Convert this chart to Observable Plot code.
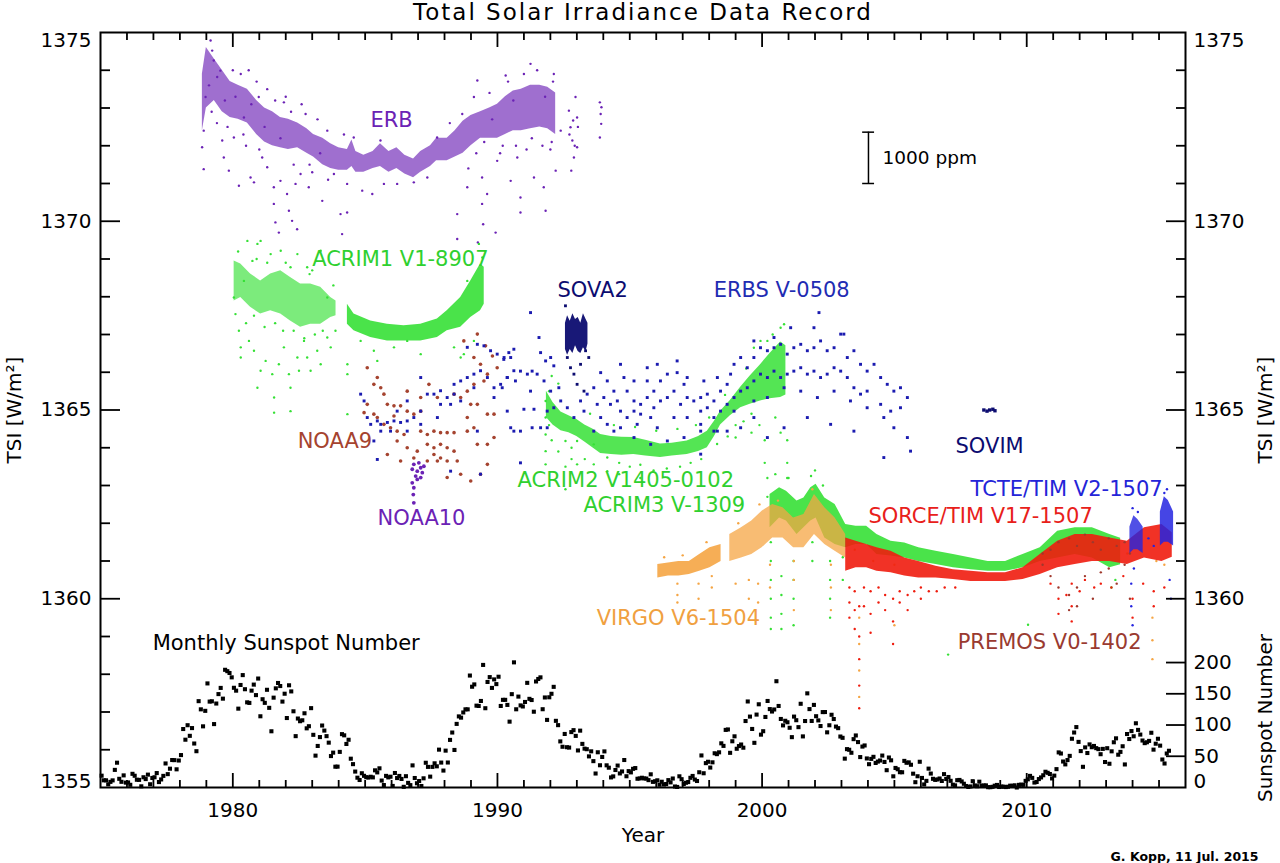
<!DOCTYPE html>
<html><head><meta charset="utf-8">
<script src="https://cdn.jsdelivr.net/npm/d3@7"></script>
<script src="https://cdn.jsdelivr.net/npm/@observablehq/plot@0.6"></script>
<style>body{margin:0;background:#fff}</style>
</head><body><div id="chart"></div>
<script>
// ---------------- DATA ----------------
const xMajor = [1980, 1990, 2000, 2010];
const xMinor = [1976,1977,1978,1979,1981,1982,1983,1984,1985,1986,1987,1988,1989,1991,1992,1993,1994,1995,1996,1997,1998,1999,2001,2002,2003,2004,2005,2006,2007,2008,2009,2011,2012,2013,2014,2015];
const yMajorLeft = [1360, 1365, 1370];
const yMinorLeft = [1356,1357,1358,1359,1361,1362,1363,1364,1366,1367,1368,1369,1371,1372,1373,1374];
const yMinorRight = [1361,1362,1363,1364,1366,1367,1368,1369,1371,1372,1373,1374];
const sunspotTicks = [0, 50, 100, 150, 200];
const sunspotPerTsi = 0.01655; // right-axis: TSI units per sunspot number

// ERB core band
const erbYears = [1978.85,1979.0,1979.3,1979.6,1979.9,1980.2,1980.55,1980.9,1981.2,1981.5,1981.8,1982.1,1982.45,1982.8,1983.05,1983.4,1983.7,1984.0,1984.33,1984.5,1984.65,1984.95,1985.3,1985.58,1985.9,1986.2,1986.5,1986.83,1987.1,1987.47,1987.7,1988.1,1988.4,1988.7,1989.0,1989.36,1989.7,1990.0,1990.3,1990.6,1990.9,1991.25,1991.6,1991.9,1992.2];
const erbLo = [1372.4,1373.0,1373.2,1372.9,1372.75,1372.7,1372.6,1372.3,1372.1,1372.0,1371.95,1371.9,1371.95,1371.8,1371.7,1371.5,1371.4,1371.35,1371.35,1371.45,1371.3,1371.3,1371.4,1371.45,1371.3,1371.4,1371.25,1371.15,1371.3,1371.45,1371.6,1371.6,1371.7,1371.8,1372.0,1372.2,1372.2,1372.2,1372.3,1372.4,1372.4,1372.45,1372.5,1372.45,1372.3];
const erbHi = [1373.9,1374.6,1374.3,1374.0,1373.7,1373.6,1373.5,1373.2,1373.0,1372.9,1372.75,1372.7,1372.6,1372.45,1372.3,1372.2,1372.05,1371.95,1371.9,1372.15,1371.85,1371.75,1371.85,1372.05,1371.85,1371.95,1371.75,1371.65,1371.85,1372.0,1372.2,1372.2,1372.4,1372.65,1372.8,1372.9,1373.0,1373.1,1373.3,1373.45,1373.5,1373.6,1373.6,1373.55,1373.4];
const erbDots = [[1978.84,1371.96],[1978.9,1371.38],[1978.9,1372.4],[1978.97,1373.29],[1979.16,1374.79],[1979.22,1374.52],[1979.28,1374.26],[1979.41,1373.82],[1979.53,1373.99],[1979.6,1372.14],[1979.66,1371.69],[1979.85,1371.34],[1980.04,1372.22],[1980.23,1370.94],[1980.42,1372.75],[1980.67,1371.16],[1980.8,1371.03],[1980.98,1373.29],[1981.11,1371.69],[1981.3,1371.43],[1981.55,1370.9],[1981.55,1370.46],[1981.61,1369.97],[1981.74,1369.7],[1981.8,1371.07],[1981.93,1373.15],[1982.05,1370.72],[1982.12,1370.28],[1982.24,1370.01],[1982.43,1369.79],[1982.37,1370.99],[1982.56,1371.25],[1982.75,1372.84],[1982.87,1370.9],[1983.38,1370.54],[1983.57,1372.4],[1983.82,1371.25],[1984.07,1370.19],[1984.13,1369.66],[1984.32,1370.99],[1984.32,1370.23],[1984.57,1372.22],[1984.89,1370.81],[1985.27,1370.72],[1985.58,1372.14],[1985.71,1370.99],[1986.21,1370.99],[1986.84,1371.03],[1987.35,1371.16],[1987.72,1372.22],[1988.48,1370.19],[1988.48,1369.53],[1988.67,1372.84],[1988.86,1370.9],[1989.11,1373.29],[1989.24,1373.73],[1989.26,1369.44],[1989.42,1371.16],[1989.42,1370.46],[1989.46,1369.92],[1989.61,1370.72],[1989.93,1369.7],[1989.99,1371.6],[1990.31,1373.86],[1990.5,1371.07],[1990.75,1371.69],[1990.87,1370.63],[1990.87,1370.23],[1991.25,1374.17],[1991.38,1371.16],[1991.75,1370.9],[1991.82,1370.28],[1992.13,1373.9],[1992.2,1371.34],[1992.39,1372.4],[1992.7,1372.93],[1992.76,1372.49],[1992.83,1372.14],[1992.89,1371.69],[1992.79,1371.34],[1992.95,1373.29],[1993.01,1372.75],[1993.01,1371.96],[1992.86,1372.67],[1993.87,1373.15],[1993.9,1372.84],[1993.92,1372.58],[1993.87,1372.22],[1993.93,1373.02],[1979.1,1373.6],[1979.4,1372.6],[1979.7,1373.2],[1980.0,1374.0],[1980.3,1373.9],[1980.6,1374.0],[1980.9,1373.7],[1981.3,1373.5],[1981.6,1373.2],[1981.0,1371.9],[1980.5,1372.0],[1982.0,1373.3],[1982.3,1371.5],[1982.6,1373.1],[1983.0,1371.3],[1983.2,1372.7],[1983.6,1371.1],[1984.2,1372.3],[1988.2,1372.6],[1988.9,1371.4],[1989.2,1371.8],[1989.7,1373.4],[1990.1,1371.8],[1990.4,1373.7],[1990.7,1372.0],[1991.0,1373.9],[1991.1,1371.9],[1991.5,1374.0],[1991.7,1372.0],[1992.0,1371.9],[1992.1,1373.7],[1979.2,1372.9],[1979.8,1372.5],[1980.1,1373.3],[1980.4,1372.3],[1980.7,1373.1],[1981.2,1372.5],[1981.8,1372.2],[1982.2,1372.9],[1982.9,1371.5],[1983.3,1371.8],[1989.5,1372.1],[1989.8,1372.7],[1990.2,1372.0],[1990.6,1373.2],[1991.3,1372.2],[1991.8,1373.3],[1992.05,1372.1],[1992.72,1372.3],[1992.92,1372.0],[1993.04,1372.5]];

// ACRIM1 (two segments)
const acrim1aYears = [1980.05,1980.3,1980.67,1981.05,1981.43,1981.81,1982.18,1982.56,1982.94,1983.32,1983.7,1983.9];
const acrim1aLo = [1367.89,1367.98,1367.72,1367.54,1367.63,1367.54,1367.36,1367.19,1367.27,1367.27,1367.45,1367.5];
const acrim1aHi = [1368.95,1368.87,1368.6,1368.42,1368.6,1368.69,1368.51,1368.34,1368.34,1368.25,1367.98,1367.89];
const acrim1bYears = [1984.33,1984.58,1985.21,1985.84,1986.47,1987.1,1987.73,1988.1,1988.61,1988.99,1989.36,1989.5];
const acrim1bLo = [1367.27,1367.1,1366.92,1366.83,1366.83,1366.83,1366.92,1367.1,1367.19,1367.45,1367.63,1367.8];
const acrim1bHi = [1367.8,1367.54,1367.36,1367.27,1367.23,1367.27,1367.41,1367.63,1367.98,1368.42,1368.87,1368.78];
const acrim1Dots = [[1980.23,1367.1],[1980.3,1366.66],[1980.3,1366.39],[1980.61,1366.83],[1980.8,1366.57],[1980.93,1365.59],[1981.05,1366.04],[1981.24,1366.3],[1981.49,1365.95],[1981.56,1365.33],[1981.56,1364.93],[1981.74,1366.21],[1981.93,1366.66],[1982.12,1365.95],[1982.18,1365.59],[1982.18,1364.97],[1982.44,1366.39],[1982.5,1366.04],[1982.69,1366.83],[1982.81,1366.39],[1982.94,1366.04],[1983.19,1366.57],[1983.32,1366.21],[1983.57,1366.92],[1983.7,1366.66],[1983.88,1367.1],[1984.33,1365.95],[1984.33,1366.21],[1984.33,1364.89],[1980.55,1369.48],[1980.93,1369.4],[1981.05,1369.48],[1981.81,1369.22],[1982.44,1369.13],[1983.32,1369.22],[1982.81,1368.78],[1984.83,1366.83],[1985.33,1366.57],[1985.46,1366.3],[1986.09,1366.66],[1986.59,1366.83],[1987.1,1366.48],[1988.36,1366.66],[1988.61,1366.39],[1988.73,1366.48],[1989.11,1366.83],[1989.3,1369.4],[1989.43,1369.04],[1988.86,1368.42],[1980.42,1368.42],[1980.74,1368.95],[1981.43,1369.13],[1980.04,1367.98],[1980.1,1367.54],[1983.57,1367.98],[1982.18,1368.78],[1980.5,1367.3],[1981.2,1367.2],[1981.9,1367.1],[1982.7,1366.9],[1983.1,1367.0],[1980.9,1369.0],[1982.0,1368.9],[1983.0,1368.7],[1980.2,1369.2],[1980.8,1367.5],[1981.3,1368.9],[1981.6,1367.3],[1982.3,1367.1],[1982.9,1368.6],[1983.4,1367.1],[1983.8,1368.3]];

// NOAA9, NOAA10
const noaa9Dots = [[1985.08,1366.12],[1985.46,1365.86],[1985.33,1365.68],[1985.59,1365.59],[1985.71,1365.42],[1985.08,1365.15],[1985.84,1365.15],[1986.09,1365.11],[1986.34,1365.11],[1984.96,1364.93],[1985.33,1364.89],[1985.46,1364.8],[1986.09,1364.84],[1986.59,1364.97],[1986.84,1364.89],[1987.1,1364.97],[1985.71,1364.62],[1985.96,1364.53],[1986.21,1364.44],[1986.47,1364.35],[1987.1,1364.44],[1987.35,1364.35],[1987.6,1364.44],[1987.85,1364.4],[1988.1,1364.4],[1988.36,1364.4],[1986.21,1364.18],[1986.59,1364.0],[1986.97,1363.91],[1987.35,1364.09],[1987.6,1364.0],[1987.85,1364.09],[1988.1,1364.0],[1988.36,1363.91],[1987.6,1363.82],[1987.85,1363.73],[1985.84,1363.82],[1986.34,1363.65],[1986.84,1363.73],[1987.35,1363.65],[1987.73,1363.65],[1988.1,1363.65],[1988.48,1363.65],[1988.61,1363.3],[1988.99,1363.12],[1988.1,1363.21],[1989.24,1364.09],[1989.62,1364.89],[1989.87,1364.89],[1989.11,1364.53],[1988.86,1364.44],[1989.87,1364.27],[1989.62,1364.09],[1988.86,1365.5],[1989.11,1365.68],[1989.49,1365.77],[1989.62,1365.95],[1989.99,1366.12],[1989.36,1366.21],[1989.11,1366.39],[1988.73,1366.83],[1989.24,1367.01],[1989.24,1365.15],[1988.99,1365.15],[1988.61,1365.33],[1988.36,1365.42],[1987.41,1365.68],[1987.73,1365.33],[1987.1,1365.33],[1986.59,1365.5],[1988.86,1364.8],[1989.62,1363.56],[1989.36,1363.3],[1989.81,1366.43],[1989.55,1366.7]];
const noaa10Dots = [[1986.84,1363.56],[1987.03,1363.6],[1987.22,1363.51],[1986.78,1363.43],[1986.97,1363.38],[1987.16,1363.34],[1986.91,1363.25],[1987.1,1363.21],[1986.78,1363.07],[1986.84,1362.94],[1986.82,1362.76],[1986.84,1362.54],[1987.1,1363.47],[1986.97,1363.16]];

// ERBS
const erbsDots = [[1984.83,1365.42],[1984.96,1365.24],[1985.08,1364.8],[1985.21,1364.62],[1985.46,1364.71],[1985.59,1364.62],[1985.84,1364.67],[1986.09,1364.71],[1986.34,1364.67],[1986.59,1364.71],[1986.84,1364.8],[1987.1,1364.97],[1987.35,1365.42],[1987.6,1365.42],[1987.85,1365.51],[1988.1,1365.33],[1988.36,1365.42],[1988.61,1365.24],[1985.33,1364.18],[1985.46,1363.69],[1985.59,1364.44],[1985.96,1364.44],[1986.59,1364.44],[1987.1,1364.62],[1987.73,1364.8],[1987.85,1365.15],[1988.23,1365.15],[1988.36,1365.68],[1988.61,1365.77],[1988.86,1365.86],[1989.11,1365.95],[1989.36,1366.04],[1989.62,1365.86],[1989.87,1365.59],[1990.12,1365.68],[1990.37,1365.86],[1990.62,1366.04],[1990.5,1366.39],[1990.25,1366.39],[1989.99,1366.48],[1989.74,1366.57],[1989.49,1366.7],[1989.24,1366.74],[1988.86,1366.66],[1989.11,1365.59],[1989.87,1365.33],[1988.23,1363.38],[1989.36,1363.3],[1990.62,1364.44],[1987.1,1365.86],[1986.59,1365.24],[1986.21,1364.97],[1989.24,1364.44],[1990.37,1364.97],
[1990.24,1366.34],[1990.43,1366.52],[1990.62,1366.61],[1990.87,1366.03],[1990.37,1365.86],[1990.18,1365.59],[1990.68,1365.77],[1991.13,1365.95],[1991.31,1366.03],[1991.5,1365.95],[1991.63,1366.52],[1991.82,1366.3],[1992.01,1366.39],[1992.13,1366.17],[1991.76,1365.77],[1992.01,1365.5],[1992.32,1365.59],[1991.25,1365.5],[1991.0,1365.02],[1991.38,1365.02],[1991.88,1364.97],[1990.5,1364.53],[1990.87,1364.44],[1991.31,1364.53],[1991.63,1364.53],[1991.88,1364.53],[1990.87,1363.6],[1992.39,1365.24],[1992.13,1365.06],[1991.57,1366.92],[1991.25,1367.58],[1993.9,1365.99],[1994.15,1365.77],[1994.4,1365.5],[1994.02,1365.33],[1994.27,1365.15],[1994.53,1365.24],[1994.78,1365.86],[1994.9,1365.5],[1995.16,1365.24],[1995.41,1365.15],[1995.66,1365.33],[1995.91,1365.5],[1996.16,1365.77],[1995.66,1365.77],[1995.16,1365.77],[1994.65,1364.97],[1994.9,1364.8],[1995.16,1364.97],[1995.41,1364.89],[1995.79,1364.8],[1996.16,1365.24],[1996.42,1365.33],[1996.67,1365.5],[1996.79,1366.3],[1996.79,1365.99],[1997.05,1365.68],[1997.17,1365.33],[1997.42,1365.24],[1997.68,1365.33],[1997.93,1365.42],[1997.68,1364.97],[1997.93,1365.06],[1998.18,1365.24],[1998.43,1365.5],[1998.68,1365.68],[1998.81,1365.95],[1998.94,1366.21],[1999.19,1366.39],[1999.44,1366.12],[1999.69,1366.39],[1999.94,1366.65],[2000.2,1366.57],[2000.45,1366.65],[2000.7,1366.74],[2000.95,1366.48],[2001.2,1366.65],[2001.46,1366.74],[2001.71,1366.57],[2001.96,1366.65],[2002.21,1366.83],[2002.46,1366.57],[2002.72,1366.65],[2002.97,1367.01],[2003.22,1366.39],[2003.47,1366.57],[2003.72,1366.21],[2003.97,1366.03],[2004.23,1366.21],[2004.48,1365.86],[2004.73,1365.68],[2004.98,1365.5],[2005.23,1365.59],[2005.49,1365.33],[2005.23,1365.06],[2004.86,1364.97],[2004.48,1365.15],[2003.97,1365.5],[2003.72,1365.42],[2003.47,1365.59],[2003.22,1365.86],[2002.97,1366.03],[2002.72,1366.12],[2002.46,1365.95],[2002.21,1365.86],[2001.96,1366.03],[2001.71,1365.95],[2001.46,1366.12],[2001.2,1366.03],[2000.95,1365.95],[2000.7,1365.86],[2000.45,1366.03],[2000.2,1365.86],[1999.94,1365.95],[1999.69,1365.77],[1999.44,1365.59],[1999.19,1365.5],[1998.94,1365.33],[1998.68,1365.15],[1998.43,1364.97],[1998.18,1364.8],[1998.94,1364.97],[1999.69,1365.24],[2000.2,1365.33],[2000.83,1365.59],[2001.46,1365.5],[2002.09,1365.33],[2002.72,1365.5],[2003.34,1365.24],[2003.97,1365.06],[2004.6,1364.8],[2004.98,1364.53],[2005.49,1364.27],[2005.61,1363.91],[2004.6,1363.74],[2003.47,1364.44],[2002.59,1364.62],[2001.71,1364.8],[2000.83,1364.53],[2000.2,1364.27],[1999.69,1366.83],[2001.96,1367.18],[2003.09,1367.01],[2002.15,1367.58],[2000.45,1366.92],[2001.08,1367.18],[1994.65,1366.21],[1995.66,1366.12],[1996.04,1366.21],[1996.42,1365.95],[1993.14,1365.24],[1993.39,1365.42],[1993.64,1365.59],[1993.77,1365.15],[1993.27,1364.97],[1992.89,1364.8],[1992.64,1365.06],[1993.9,1364.8],[1994.15,1364.62],[1994.4,1364.44],[1994.65,1364.53],[1993.64,1364.44],[1995.28,1364.62],[1996.04,1364.53],[1996.67,1364.8],[1997.17,1364.8],[1997.68,1364.62],[1998.18,1364.44],[1995.16,1364.27],[1995.79,1364.09],[1996.42,1364.18],[1997.05,1364.27],[1997.68,1363.83],[1998.31,1364.44],[1998.68,1364.44],[1999.19,1364.53],[1999.69,1364.8],[1997.68,1364.44],[1996.92,1365.15],[1995.91,1365.06],[1997.17,1365.86],[1997.8,1365.77],[1998.31,1365.86]];

// SOVA2, SOVIM
const sova2Years = [1992.57,1992.65,1992.75,1992.85,1992.95,1993.05,1993.15,1993.25,1993.35,1993.42];
const sova2Lo = [1366.6,1366.45,1366.6,1366.5,1366.7,1366.55,1366.5,1366.65,1366.55,1366.75];
const sova2Hi = [1367.3,1367.5,1367.35,1367.55,1367.4,1367.45,1367.3,1367.55,1367.4,1367.3];
const sova2Dots = [[1992.64,1366.39],[1992.76,1366.12],[1992.89,1365.95],[1993.01,1365.68],[1993.27,1365.5],[1993.14,1366.21],[1993.33,1366.57],[1992.57,1367.76],[1993.45,1366.39]];
const sovimDots = [[2008.38,1365.0],[2008.5,1364.97],[2008.6,1365.0],[2008.72,1365.02],[2008.8,1364.98]];

// ACRIM2
const acrim2Years = [1991.85,1992.1,1992.4,1992.7,1993.0,1993.3,1993.6,1993.9,1994.3,1994.7,1995.15,1995.6,1996.16,1996.6,1997.17,1997.6,1997.93,1998.2,1998.43,1998.8,1999.19,1999.55,1999.94,2000.3,2000.7,2000.9];
const acrim2Lo = [1364.8,1364.6,1364.45,1364.4,1364.3,1364.15,1364.0,1363.85,1363.82,1363.8,1363.82,1363.78,1363.74,1363.78,1363.82,1363.9,1364.0,1364.3,1364.6,1364.85,1365.06,1365.15,1365.24,1365.3,1365.33,1365.4];
const acrim2Hi = [1365.5,1365.2,1364.95,1364.85,1364.75,1364.6,1364.5,1364.35,1364.3,1364.28,1364.27,1364.2,1364.1,1364.12,1364.18,1364.3,1364.44,1364.7,1364.97,1365.25,1365.6,1365.9,1366.2,1366.5,1366.8,1366.7];
const acrim2Dots = [[1991.82,1365.24],[1991.82,1364.8],[1991.82,1364.35],[1991.82,1363.91],[1991.82,1363.56],[1991.95,1365.5],[1991.95,1364.6],[1992.05,1365.9],[1992.05,1364.2],[1992.3,1365.7],[1992.3,1363.9],[1992.57,1364.18],[1992.57,1363.5],[1992.57,1362.9],[1992.8,1364.0],[1992.8,1363.7],[1993.01,1364.18],[1993.01,1363.56],[1993.3,1363.7],[1993.64,1364.09],[1993.64,1363.56],[1994.15,1363.74],[1994.15,1363.38],[1994.6,1363.6],[1994.6,1363.3],[1995.0,1363.5],[1995.4,1363.55],[1995.4,1363.2],[1995.9,1363.4],[1996.4,1363.45],[1996.9,1363.5],[1997.3,1363.6],[1997.7,1363.7],[1998.3,1364.1],[1998.7,1364.3],[1999.0,1364.6],[1999.0,1364.27],[1999.3,1364.7],[1999.6,1364.9],[1999.6,1364.4],[1999.9,1364.6],[2000.1,1364.2],[2000.1,1363.6],[2000.2,1363.2],[2000.2,1362.7],[2000.5,1364.8],[2000.7,1364.4],[2000.95,1363.2],[2000.95,1363.6],[2000.95,1364.2],[1999.94,1366.83],[2000.2,1366.83],[1999.69,1366.65],[2000.7,1367.18],[2000.83,1367.27],[2000.4,1367.0],[1993.5,1364.9],[1994.4,1364.6],[1995.2,1364.55],[1996.0,1364.45],[1996.8,1364.5],[1997.5,1364.6],[1998.0,1364.8],[1998.6,1365.4],[1999.4,1366.1]];

// ACRIM3
const acrim3Years = [2000.3,2000.66,2000.92,2001.32,2001.58,2001.84,2002.04,2002.37,2002.76,2003.16,2003.55,2003.95,2004.34,2004.87,2005.39,2005.92,2006.57,2007.23,2007.89,2008.54,2009.2,2009.86,2010.51,2011.17,2011.83,2012.48,2013.14,2013.55];
const acrim3Lo = [1361.88,1362.14,1362.06,1361.7,1361.88,1362.06,1362.14,1361.61,1361.44,1361.35,1361.44,1361.44,1361.17,1361.13,1361.08,1360.99,1360.91,1360.82,1360.77,1360.73,1360.73,1360.82,1360.99,1361.08,1361.17,1361.08,1360.82,1360.9];
const acrim3Hi = [1362.76,1362.94,1362.85,1362.59,1362.67,1362.94,1363.03,1362.67,1362.5,1361.97,1361.92,1361.92,1361.7,1361.52,1361.48,1361.35,1361.26,1361.17,1361.08,1360.99,1360.99,1361.17,1361.35,1361.79,1361.88,1361.88,1361.7,1361.6];
const acrim3Dots = [[2000.33,1361.5],[2000.33,1361.0],[2000.33,1360.5],[2000.33,1360.0],[2000.33,1359.5],[2000.33,1359.2],[2000.73,1360.6],[2000.73,1360.1],[2000.73,1359.6],[2000.73,1359.2],[2001.19,1361.0],[2001.19,1360.5],[2001.19,1360.0],[2001.19,1359.3],[2001.9,1361.5],[2001.9,1361.0],[2002.57,1361.0],[2002.57,1360.5],[2002.57,1360.0],[2002.57,1359.5],[2003.05,1361.1],[2003.05,1360.5],[2007.03,1358.52],[2010.05,1359.31],[2013.2,1360.3],[2013.35,1360.5],[2000.5,1363.3],[2001.0,1363.2],[2001.85,1363.25],[2002.0,1363.4],[2002.3,1363.0]];

// VIRGO (two segments)
const virgoAYears = [1996.06,1996.46,1996.85,1997.25,1997.64,1998.03,1998.45];
const virgoALo = [1360.55,1360.6,1360.6,1360.64,1360.73,1360.82,1360.99];
const virgoAHi = [1360.91,1360.95,1360.99,1360.99,1361.17,1361.35,1361.44];
const virgoBYears = [1998.78,1999.22,1999.61,2000.0,2000.4,2000.79,2001.19,2001.58,2001.98,2002.37,2002.76,2003.16];
const virgoBLo = [1360.99,1361.08,1361.17,1361.35,1361.61,1361.61,1361.35,1361.35,1361.7,1361.44,1361.26,1361.08];
const virgoBHi = [1361.7,1361.88,1362.06,1362.32,1362.5,1362.41,1362.14,1362.23,1362.76,1362.41,1362.14,1361.7];
const virgoDots = [[1996.8,1360.4],[1996.8,1360.1],[1996.8,1359.9],[1997.6,1360.4],[1997.6,1360.0],[1998.1,1360.6],[1998.1,1360.3],[1999.0,1360.4],[1999.5,1360.5],[1999.5,1360.0],[1999.85,1360.4],[1999.85,1359.9],[2000.3,1360.9],[2000.3,1360.3],[2001.2,1361.0],[2001.2,1360.5],[2001.2,1359.7],[2002.6,1360.9],[2002.6,1360.3],[2002.6,1359.7],[2003.67,1359.5],[2003.67,1358.8],[2003.67,1358.1],[2003.67,1357.4],[2005.0,1359.3],[2014.75,1359.5],[2014.75,1358.9],[2014.75,1358.4],[2003.5,1361.3],[2004.2,1361.0],[2005.0,1360.9],[2013.8,1361.2],[2014.3,1361.3],[2014.9,1361.0],[2015.2,1360.9],[1996.3,1361.1],[1997.0,1361.15],[1997.9,1361.5],[1999.1,1362.0],[1999.9,1362.5],[2000.6,1362.6],[2001.9,1362.9]];

// SORCE/TIM
const sorceYears = [2003.16,2003.55,2003.95,2004.34,2004.87,2005.39,2005.92,2006.57,2007.23,2007.89,2008.54,2009.2,2009.86,2010.51,2011.17,2011.83,2012.48,2013.14,2013.8,2014.45,2015.11,2015.5];
const sorceLo = [1360.73,1360.82,1360.82,1360.73,1360.69,1360.6,1360.55,1360.55,1360.51,1360.46,1360.46,1360.46,1360.51,1360.64,1360.82,1360.91,1360.99,1360.99,1360.91,1361.08,1360.99,1361.1];
const sorceHi = [1361.61,1361.52,1361.44,1361.35,1361.26,1361.08,1360.99,1360.86,1360.77,1360.73,1360.69,1360.69,1360.82,1361.17,1361.52,1361.7,1361.7,1361.61,1361.52,1361.88,1361.97,1361.75];
const sorceDots = [[2003.3,1360.3],[2003.3,1359.9],[2003.3,1359.5],[2003.5,1360.2],[2003.5,1359.7],[2003.5,1359.2],[2003.67,1359.8],[2003.67,1359.0],[2003.67,1358.4],[2003.67,1357.7],[2003.67,1357.1],[2003.85,1360.3],[2003.85,1359.8],[2004.1,1360.2],[2004.1,1359.6],[2004.1,1359.1],[2004.4,1360.3],[2004.4,1359.9],[2004.65,1360.1],[2004.65,1359.7],[2004.95,1360.0],[2004.95,1359.4],[2004.95,1358.8],[2005.2,1360.2],[2005.2,1359.9],[2005.5,1360.1],[2005.5,1359.7],[2005.75,1360.2],[2006.0,1360.3],[2006.0,1360.0],[2006.3,1360.2],[2006.6,1360.2],[2006.9,1360.3],[2007.3,1360.3],[2010.9,1360.4],[2011.2,1360.0],[2011.2,1359.6],[2011.5,1360.1],[2011.7,1360.4],[2011.7,1359.8],[2011.7,1359.4],[2012.0,1360.2],[2012.2,1360.5],[2012.55,1360.3],[2012.8,1360.4],[2013.2,1360.3],[2013.65,1360.6],[2014.0,1360.0],[2014.0,1359.5],[2014.4,1360.4],[2014.8,1360.2],[2014.8,1359.8],[2015.2,1360.3]];

// TCTE/TIM (two visible blobs), PREMOS
const tcteAYears = [2013.9,2014.05,2014.2,2014.4];
const tcteALo = [1361.2,1361.3,1361.3,1361.2];
const tcteAHi = [1361.9,1362.2,1362.1,1361.9];
const tcteBYears = [2015.05,2015.2,2015.35,2015.55];
const tcteBLo = [1361.4,1361.5,1361.5,1361.4];
const tcteBHi = [1362.3,1362.7,1362.6,1362.3];
const tcteDots = [[2013.95,1360.4],[2013.95,1359.8],[2014.0,1359.3],[2014.05,1360.8],[2015.4,1360.5],[2015.45,1360.0],[2015.3,1362.9],[2014.0,1362.4],[2014.2,1362.3],[2015.2,1362.8],[2014.6,1361.6],[2014.8,1361.4]];
const premosDots = [[2010.6,1360.9],[2010.6,1361.2],[2010.9,1361.3],[2010.9,1360.6],[2011.2,1361.5],[2011.2,1360.3],[2011.6,1361.6],[2011.6,1360.1],[2011.6,1359.7],[2011.9,1361.4],[2011.9,1360.3],[2011.9,1359.8],[2012.2,1361.7],[2012.2,1360.6],[2012.5,1361.5],[2012.5,1360.0],[2012.8,1361.3],[2012.8,1360.7],[2013.1,1361.6],[2013.1,1360.8],[2013.4,1361.4],[2013.4,1360.4],[2013.7,1361.5],[2013.7,1360.9],[2013.9,1361.2],[2013.9,1360.0]];

// Monthly sunspot number, Jan 1975 .. May 2015
const sunspotStartYear = 1975;
const sunspotMonthly = [
18.9,11.5,11.5,5.1,9.0,11.4,28.2,39.7,13.9,9.1,19.4,7.8,
8.1,4.3,21.9,18.8,12.4,12.2,1.9,16.4,13.5,20.6,5.2,15.3,
16.4,23.1,8.7,12.9,18.6,38.5,21.4,30.1,44.0,43.8,29.1,43.2,
51.9,93.6,76.5,99.7,82.7,95.1,70.4,58.1,138.2,125.1,97.9,122.7,
166.6,137.5,138.0,101.5,134.4,149.5,159.4,142.2,188.4,186.2,183.3,176.3,
159.6,155.0,126.2,164.1,179.9,157.3,136.3,135.4,155.0,164.7,147.9,174.4,
114.0,141.3,135.5,156.4,127.5,90.0,143.8,158.7,167.3,162.4,137.5,150.1,
111.2,163.6,153.8,122.0,82.2,110.4,106.1,107.6,118.8,94.7,98.1,127.0,
84.3,51.0,66.5,80.7,99.2,91.1,82.2,71.8,50.3,55.8,33.3,33.4,
57.0,85.4,83.5,69.7,76.4,46.1,37.4,25.5,15.7,12.0,22.8,18.7,
16.5,15.9,17.2,16.2,27.5,24.2,30.7,11.1,3.9,18.6,16.2,17.3,
2.5,23.2,15.1,18.5,13.7,1.1,18.1,7.4,3.8,35.4,15.2,6.8,
10.4,2.4,14.7,39.6,33.0,17.4,33.0,38.7,33.9,60.6,39.9,27.1,
59.0,40.0,76.2,88.0,60.1,101.8,113.8,111.8,120.1,125.1,125.1,179.2,
161.3,165.0,131.0,130.5,138.5,196.2,126.9,168.9,176.7,159.4,173.0,165.5,
177.3,130.5,140.3,140.3,132.2,105.4,149.4,200.3,125.2,145.5,131.4,129.7,
136.9,167.5,141.9,140.0,121.3,169.7,173.7,176.3,125.3,144.1,108.2,144.4,
150.0,161.1,106.7,99.8,73.8,65.2,85.7,64.5,63.9,88.7,91.8,82.6,
59.3,91.0,69.8,62.2,61.3,49.8,57.9,42.2,22.4,56.4,35.6,48.9,
57.8,35.5,31.7,16.1,17.8,28.0,35.1,22.5,25.7,44.0,18.0,26.2,
24.2,29.9,31.1,14.0,14.5,15.6,14.5,14.3,11.8,21.1,9.0,10.0,
11.5,4.4,9.2,4.8,5.5,11.8,8.2,14.4,1.6,0.9,17.9,13.3,
5.7,7.6,8.7,15.5,18.5,12.7,10.4,24.4,51.3,22.8,39.0,41.2,
31.9,40.3,54.8,53.4,56.3,70.7,66.6,92.2,92.9,55.5,74.0,81.9,
62.0,66.3,68.8,63.7,106.4,137.7,113.5,93.7,71.5,116.7,133.2,84.6,
90.1,112.9,138.5,125.5,121.6,124.9,170.1,130.5,109.7,99.4,106.8,104.4,
95.6,80.6,113.5,107.7,96.6,134.0,81.8,106.4,150.7,125.5,106.5,132.2,
114.1,107.4,98.4,120.7,120.8,88.3,99.6,116.4,109.6,97.5,95.0,81.6,
79.5,46.2,61.4,60.4,55.6,77.4,83.3,72.7,48.7,65.5,67.3,46.5,
37.3,45.8,49.1,39.3,41.5,43.2,51.1,40.9,27.7,48.0,43.5,17.9,
31.3,29.2,24.5,24.4,42.6,39.6,40.2,36.4,22.1,8.5,18.0,41.2,
15.3,4.9,10.6,30.2,22.3,13.9,12.2,12.9,14.4,10.5,21.4,13.6,
16.8,10.7,4.5,3.4,11.7,12.1,9.7,6.0,2.4,0.9,1.7,10.1,
3.3,2.1,9.3,2.9,3.2,3.4,0.5,0.5,1.1,2.9,4.1,0.8,
1.5,1.4,0.7,1.2,2.9,2.6,3.5,0.0,4.2,4.6,4.2,10.6,
13.1,18.6,15.4,7.9,8.8,13.5,16.1,19.6,25.2,23.5,21.6,14.5,
19.0,29.4,56.2,54.4,41.6,37.0,43.9,50.6,78.0,88.0,96.7,73.0,
58.3,33.1,64.2,55.2,69.0,64.5,66.5,63.0,61.4,53.3,61.8,40.8,
62.9,38.0,57.9,72.4,78.7,52.5,57.0,66.0,36.9,85.6,77.6,90.3,
82.0,102.8,92.2,84.7,75.2,71.0,72.4,74.6,87.6,60.6,70.1,78.0,
67.0,44.8,38.4,54.4,58.8];

// text annotations
const annotations = [
  {text: "ERB", x: 1985.2, y: 1372.67, color: "#6b22b5"},
  {text: "ACRIM1 V1-8907", x: 1983.0, y: 1368.98, color: "#2fd02f"},
  {text: "SOVA2", x: 1992.27, y: 1368.16, color: "#0c0c70"},
  {text: "ERBS V-0508", x: 1998.17, y: 1368.16, color: "#1f2cb3"},
  {text: "NOAA9", x: 1982.45, y: 1364.16, color: "#a5432f"},
  {text: "NOAA10", x: 1985.47, y: 1362.14, color: "#6b22b5"},
  {text: "ACRIM2 V1405-0102", x: 1990.76, y: 1363.13, color: "#2fd02f"},
  {text: "ACRIM3 V-1309", x: 1993.25, y: 1362.48, color: "#2fd02f"},
  {text: "SOVIM", x: 2007.31, y: 1364.04, color: "#0c0c70"},
  {text: "TCTE/TIM V2-1507", x: 2007.88, y: 1362.9, color: "#2424d8"},
  {text: "SORCE/TIM V17-1507", x: 2004.02, y: 1362.19, color: "#e8201a"},
  {text: "VIRGO V6-1504", x: 1993.75, y: 1359.48, color: "#f0a040"},
  {text: "PREMOS V0-1402", x: 2007.39, y: 1358.85, color: "#9a3a30"},
  {text: "Monthly Sunspot Number", x: 1976.97, y: 1358.82, color: "black"}
];
const scaleBar = {x: 2004.02, x1: 2003.8, x2: 2004.25, y1: 1371.0, y2: 1372.36, label: "1000 ppm", labelX: 2004.55};
const titleText = "Total Solar Irradiance Data Record";

// ---------------- BUILD ----------------
const C = {erb: "#6b22b5", acrim: "#36e036", noaa9: "#a5432f", erbs: "#1b1bb0", sova: "#0c0c70",
           virgo: "#f5a544", sorce: "#ef1c0e", tcte: "#2424e0", premos: "#a0382c"};
const rib = (xs, lo, hi) => xs.map((x, i) => ({x, lo: lo[i], hi: hi[i]}));
const pts = (arr) => arr.map(([x, y]) => ({x, y}));
const sunspot = sunspotMonthly.map((s, i) => ({x: sunspotStartYear + (i + 0.5) / 12, y: 1355 + s * sunspotPerTsi}));
const band = (data, fill, op) => Plot.areaY(data, {x: "x", y1: "lo", y2: "hi", fill, fillOpacity: op, curve: "linear"});
const dots = (data, fill, r, symbol = "circle") => Plot.dot(pts(data), {x: "x", y: "y", r, fill, symbol, stroke: null});
const blank = () => "";
const tickStyle = {strokeWidth: 1.8, label: null, tickFormat: blank};
const ssTickPos = sunspotTicks.filter((s) => s > 0).map((s) => 1355 + s * sunspotPerTsi);

const chart = Plot.plot({
  width: 1280, height: 863,
  marginLeft: 100, marginRight: 95, marginTop: 32, marginBottom: 76,
  x: {domain: [1975, 2016], label: null},
  y: {domain: [1355, 1375], label: null},
  color: {type: "identity"},
  style: {fontFamily: "DejaVu Sans", fontSize: "20px", background: "white", color: "black", overflow: "visible"},
  marks: [
    // ERB
    band(rib(erbYears, erbLo, erbHi), C.erb, 0.65),
    dots(erbDots, C.erb, 1.2),
    // ACRIM1
    band(rib(acrim1aYears, acrim1aLo, acrim1aHi), C.acrim, 0.65),
    band(rib(acrim1bYears, acrim1bLo, acrim1bHi), C.acrim, 0.9),
    dots(acrim1Dots, C.acrim, 1.2),
    // NOAA9
    dots(noaa9Dots, C.noaa9, 1.8),
    // ACRIM2
    band(rib(acrim2Years, acrim2Lo, acrim2Hi), C.acrim, 0.85),
    dots(acrim2Dots, C.acrim, 1.2),
    // ERBS, NOAA10
    dots(erbsDots, C.erbs, 1.65, "square"),
    dots(noaa10Dots, C.erb, 1.9),
    // SOVA2 / SOVIM
    band(rib(sova2Years, sova2Lo, sova2Hi), C.sova, 0.95),
    dots(sova2Dots, C.sova, 1.6, "square"),
    dots(sovimDots, C.sova, 1.9, "square"),
    // ACRIM3 / VIRGO
    band(rib(acrim3Years, acrim3Lo, acrim3Hi), C.acrim, 0.9),
    dots(acrim3Dots, C.acrim, 1.2),
    band(rib(virgoAYears, virgoALo, virgoAHi), C.virgo, 0.9),
    band(rib(virgoBYears, virgoBLo, virgoBHi), C.virgo, 0.75),
    dots(virgoDots, C.virgo, 1.2),
    // SORCE, PREMOS, TCTE
    band(rib(sorceYears, sorceLo, sorceHi), C.sorce, 0.9),
    dots(sorceDots, C.sorce, 1.2),
    dots(premosDots, C.premos, 1.2),
    band(rib(tcteAYears, tcteALo, tcteAHi), C.tcte, 0.8),
    band(rib(tcteBYears, tcteBLo, tcteBHi), C.tcte, 0.85),
    dots(tcteDots, C.tcte, 1.2),
    // sunspots
    Plot.dot(sunspot, {x: "x", y: "y", r: 2.3, symbol: "square", fill: "black", stroke: null}),

    // scale bar
    Plot.ruleX([scaleBar], {x: "x", y1: "y1", y2: "y2", stroke: "black", strokeWidth: 1.5}),
    Plot.ruleY([scaleBar.y1, scaleBar.y2], {x1: scaleBar.x1, x2: scaleBar.x2, stroke: "black", strokeWidth: 1.5}),
    Plot.text([scaleBar], {x: "labelX", y: (d) => (d.y1 + d.y2) / 2, text: "label", textAnchor: "start", fontSize: 18.5}),

    // annotations
    Plot.text(annotations, {x: "x", y: "y", text: "text", fill: "color", textAnchor: "start", lineAnchor: "middle", fontSize: 21}),

    // frame & axes
    Plot.frame({stroke: "black", strokeWidth: 2}),
    Plot.axisX({anchor: "bottom", ticks: xMajor, tickSize: 0, tickPadding: 15, tickFormat: (d) => String(d), fontSize: 20, label: null}),
    Plot.axisX({anchor: "bottom", ticks: xMajor, tickSize: -14, ...tickStyle}),
    Plot.axisX({anchor: "bottom", ticks: xMinor, tickSize: -7, ...tickStyle}),
    Plot.axisX({anchor: "top", ticks: xMajor, tickSize: -14, ...tickStyle}),
    Plot.axisX({anchor: "top", ticks: xMinor, tickSize: -7, ...tickStyle}),

    Plot.axisY({anchor: "left", ticks: yMajorLeft, tickSize: 0, tickPadding: 9, tickFormat: (d) => String(d), fontSize: 20, label: null}),
    Plot.axisY({anchor: "left", ticks: [1375], tickSize: 0, tickPadding: 9, dy: 8, tickFormat: (d) => String(d), fontSize: 20, label: null}),
    Plot.axisY({anchor: "left", ticks: [1355], tickSize: 0, tickPadding: 9, dy: -6, tickFormat: (d) => String(d), fontSize: 20, label: null}),
    Plot.axisY({anchor: "left", ticks: yMajorLeft, tickSize: -20, ...tickStyle}),
    Plot.axisY({anchor: "left", ticks: yMinorLeft, tickSize: -10, ...tickStyle}),

    Plot.axisY({anchor: "right", ticks: yMajorLeft, tickSize: 0, tickPadding: 8, tickFormat: (d) => String(d), fontSize: 20, label: null}),
    Plot.axisY({anchor: "right", ticks: [1375], tickSize: 0, tickPadding: 8, dy: 8, tickFormat: (d) => String(d), fontSize: 20, label: null}),
    Plot.axisY({anchor: "right", ticks: yMajorLeft, tickSize: -20, ...tickStyle}),
    Plot.axisY({anchor: "right", ticks: yMinorRight, tickSize: -10, ...tickStyle}),
    Plot.axisY({anchor: "right", ticks: ssTickPos, tickSize: -20, ...tickStyle}),
    Plot.axisY({anchor: "right", ticks: ssTickPos, tickSize: 0, tickPadding: 8,
      tickFormat: (d) => String(Math.round((d - 1355) / sunspotPerTsi)), fontSize: 20, label: null}),
    Plot.axisY({anchor: "right", ticks: [1355], tickSize: 0, tickPadding: 8, dy: -6, tickFormat: () => String(sunspotTicks[0]), fontSize: 20, label: null}),

    // titles
    Plot.text([titleText], {frameAnchor: "top", dy: -20, fontSize: 23, textAnchor: "middle", lineAnchor: "middle"}),
    Plot.text(["Year"], {frameAnchor: "bottom", dy: 48, fontSize: 20, textAnchor: "middle", lineAnchor: "middle"}),
    Plot.text(["TSI [W/m²]"], {frameAnchor: "left", dx: -86, rotate: -90, fontSize: 20, textAnchor: "middle", lineAnchor: "middle"}),
    Plot.text(["TSI [W/m²]"], {frameAnchor: "right", dx: 80, rotate: -90, fontSize: 20, textAnchor: "middle", lineAnchor: "middle"}),
    Plot.text([{t: "Sunspot Number", y: 1356.84}], {frameAnchor: "right", y: "y", text: "t", dx: 80, rotate: -90, fontSize: 20, textAnchor: "middle", lineAnchor: "middle"}),
    Plot.text(["G. Kopp, 11 Jul. 2015"], {frameAnchor: "bottom-right", dx: 73, dy: 69, textAnchor: "end", fontSize: 12.5, fontWeight: "bold", lineAnchor: "middle"})
  ]
});
d3.select(chart).selectAll("text").filter(function () { return this.textContent === titleText; }).attr("letter-spacing", "2px");
document.getElementById("chart").appendChild(chart);
</script>
</body></html>
